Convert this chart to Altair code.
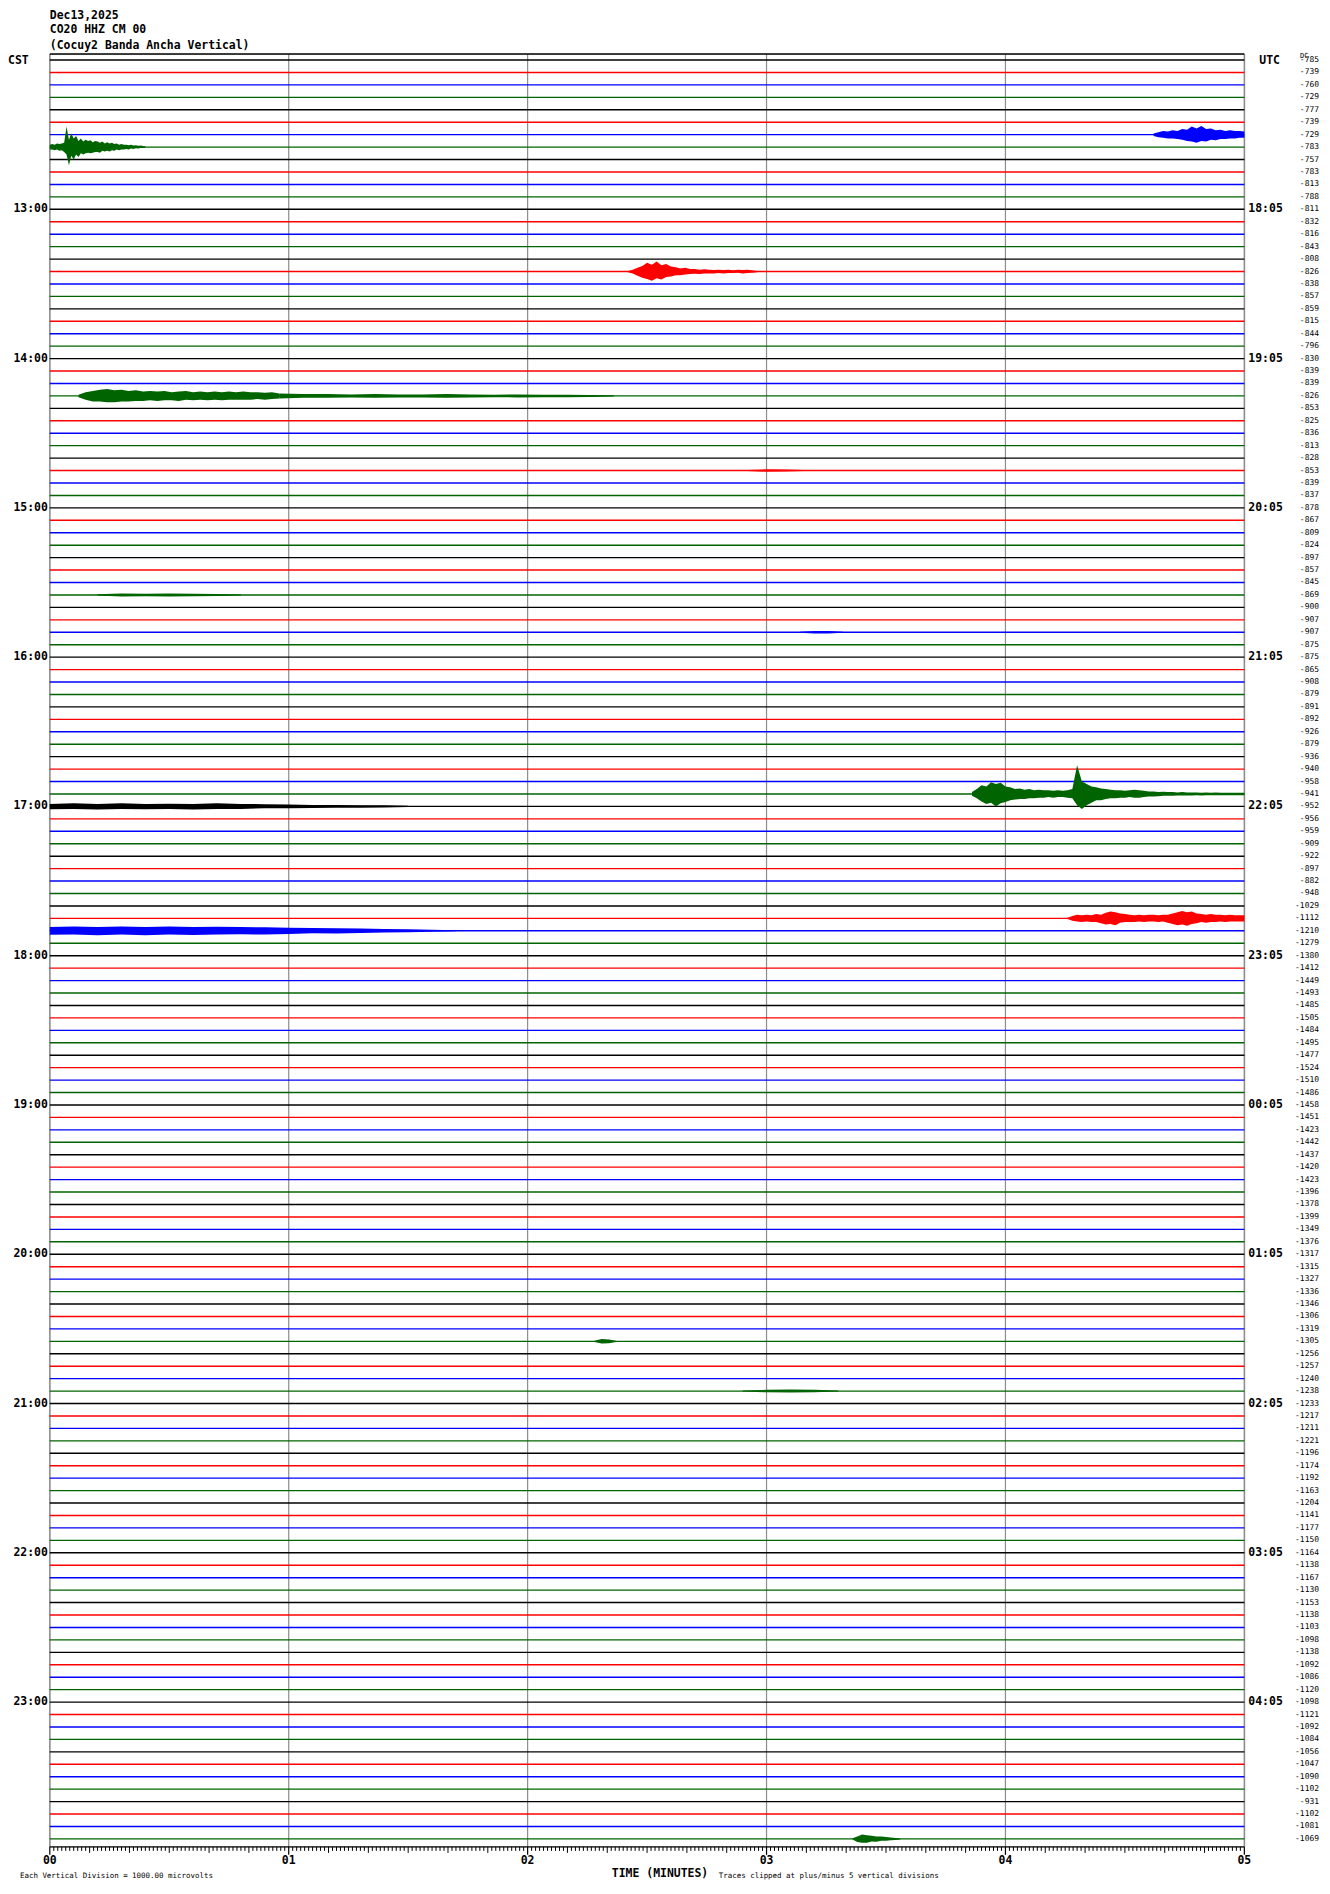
import altair as alt
import pandas as pd

# ---------------- data ----------------
right_values = [
    -785, -739, -760, -729, -777, -739, -729, -783, -757, -783, -813, -788,
    -811, -832, -816, -843, -808, -826, -838, -857, -859, -815, -844, -796,
    -830, -839, -839, -826, -853, -825, -836, -813, -828, -853, -839, -837,
    -878, -867, -809, -824, -897, -857, -845, -869, -900, -907, -907, -875,
    -875, -865, -908, -879, -891, -892, -926, -879, -936, -940, -958, -941,
    -952, -956, -959, -909, -922, -897, -882, -948, -1029, -1112, -1210, -1279,
    -1380, -1412, -1449, -1493, -1485, -1505, -1484, -1495, -1477, -1524, -1510, -1486,
    -1458, -1451, -1423, -1442, -1437, -1420, -1423, -1396, -1378, -1399, -1349, -1376,
    -1317, -1315, -1327, -1336, -1346, -1306, -1319, -1305, -1256, -1257, -1240, -1238,
    -1233, -1217, -1211, -1221, -1196, -1174, -1192, -1163, -1204, -1141, -1177, -1150,
    -1164, -1138, -1167, -1130, -1153, -1138, -1103, -1098, -1138, -1092, -1086, -1120,
    -1098, -1121, -1092, -1084, -1056, -1047, -1090, -1102, -931, -1102, -1081, -1069,
]
cst_labels = ["13:00", "14:00", "15:00", "16:00", "17:00", "18:00",
              "19:00", "20:00", "21:00", "22:00", "23:00"]
utc_labels = ["18:05", "19:05", "20:05", "21:05", "22:05", "23:05",
              "00:05", "01:05", "02:05", "03:05", "04:05"]
minute_labels = ["00", "01", "02", "03", "04", "05"]
color_keys = ["k", "r", "b", "g"]
color_range = ["#000000", "#ff0000", "#0000ff", "#006400"]

# seismic bursts read from the record:
# (row, start minute, sample step in minutes, upward amplitudes, downward amplitudes)
# amplitudes in units of trace spacing
bursts_data = [
    (7, 0.0, 0.01,
     [0.2, 0.25, 0.2, 0.3, 0.25, 0.3, 0.35, 1.65, 0.6, 1.1, 0.7, 0.9, 0.5, 0.7, 0.45, 0.6, 0.5, 0.55, 0.4, 0.5,
      0.45, 0.35, 0.45, 0.3, 0.4, 0.3, 0.35, 0.25, 0.3, 0.2, 0.25, 0.2, 0.2, 0.15, 0.2, 0.12, 0.15, 0.1, 0.12, 0.08, 0.06],
     [0.2, 0.2, 0.25, 0.2, 0.3, 0.25, 0.4, 0.6, 1.45, 0.7, 1.0, 0.6, 0.8, 0.5, 0.6, 0.5, 0.45, 0.5, 0.45, 0.4,
      0.4, 0.45, 0.3, 0.35, 0.3, 0.35, 0.25, 0.3, 0.2, 0.25, 0.2, 0.2, 0.15, 0.2, 0.12, 0.15, 0.1, 0.12, 0.08, 0.08, 0.06]),
    (6, 4.62, 0.02,
     [0.1, 0.2, 0.3, 0.25, 0.35, 0.3, 0.45, 0.4, 0.65, 0.5, 0.7, 0.45, 0.5, 0.35, 0.4, 0.3, 0.35, 0.3, 0.3, 0.25],
     [0.1, 0.2, 0.25, 0.3, 0.3, 0.35, 0.4, 0.5, 0.55, 0.65, 0.5, 0.55, 0.4, 0.45, 0.35, 0.35, 0.3, 0.3, 0.25, 0.25]),
    (17, 2.42, 0.02,
     [0.05, 0.15, 0.3, 0.45, 0.7, 0.55, 0.8, 0.5, 0.6, 0.4, 0.35, 0.25, 0.3, 0.2, 0.2, 0.15, 0.18, 0.15, 0.12, 0.15,
      0.12, 0.15, 0.1, 0.15, 0.12, 0.15, 0.1, 0.05],
     [0.05, 0.15, 0.35, 0.5, 0.6, 0.75, 0.55, 0.65, 0.45, 0.4, 0.3, 0.3, 0.25, 0.2, 0.18, 0.2, 0.15, 0.15, 0.15, 0.12,
      0.15, 0.12, 0.12, 0.1, 0.15, 0.12, 0.1, 0.05]),
    (27, 0.12, 0.03,
     [0.1, 0.3, 0.4, 0.5, 0.55, 0.45, 0.5, 0.4, 0.45, 0.35, 0.4, 0.35, 0.4, 0.3, 0.35, 0.4, 0.3, 0.35, 0.3, 0.35,
      0.3, 0.35, 0.3, 0.35, 0.3, 0.3, 0.25, 0.3, 0.2],
     [0.1, 0.3, 0.45, 0.45, 0.5, 0.5, 0.45, 0.45, 0.4, 0.4, 0.35, 0.4, 0.35, 0.35, 0.4, 0.3, 0.35, 0.3, 0.35, 0.3,
      0.35, 0.3, 0.3, 0.3, 0.3, 0.25, 0.3, 0.25, 0.2]),
    (27, 0.96, 0.1,
     [0.2, 0.15, 0.15, 0.12, 0.15, 0.12, 0.12, 0.15, 0.12, 0.1, 0.12, 0.1, 0.1, 0.08, 0.05],
     [0.2, 0.15, 0.15, 0.12, 0.15, 0.12, 0.12, 0.15, 0.12, 0.1, 0.12, 0.1, 0.1, 0.08, 0.05]),
    (59, 3.86, 0.02,
     [0.15, 0.4, 0.7, 0.6, 0.95, 0.8, 0.9, 0.6, 0.55, 0.4, 0.45, 0.35, 0.4, 0.3, 0.35, 0.3, 0.3, 0.25, 0.3, 0.25,
      0.3, 0.4, 2.3, 1.0, 0.8, 0.6, 0.55, 0.45, 0.4, 0.35, 0.3, 0.3, 0.25, 0.3, 0.35, 0.3, 0.25, 0.2, 0.2, 0.15,
      0.18, 0.15, 0.15, 0.12, 0.15, 0.12, 0.12, 0.12, 0.1, 0.12, 0.1, 0.12, 0.1, 0.1, 0.1, 0.1, 0.1, 0.1],
     [0.15, 0.35, 0.6, 0.8, 0.7, 1.0, 0.75, 0.65, 0.5, 0.45, 0.4, 0.4, 0.35, 0.35, 0.3, 0.3, 0.25, 0.3, 0.25, 0.25,
      0.3, 0.35, 0.9, 1.2, 0.9, 0.7, 0.5, 0.5, 0.4, 0.35, 0.35, 0.3, 0.3, 0.25, 0.3, 0.3, 0.25, 0.2, 0.2, 0.18,
      0.15, 0.15, 0.15, 0.12, 0.12, 0.12, 0.12, 0.1, 0.12, 0.1, 0.1, 0.1, 0.1, 0.1, 0.1, 0.1, 0.1, 0.1]),
    (60, 0.0, 0.1,
     [0.2, 0.25, 0.2, 0.25, 0.2, 0.22, 0.2, 0.25, 0.2, 0.18, 0.15, 0.12, 0.12, 0.1, 0.1, 0.05],
     [0.22, 0.2, 0.25, 0.2, 0.22, 0.2, 0.25, 0.2, 0.2, 0.15, 0.15, 0.12, 0.1, 0.1, 0.08, 0.05]),
    (69, 4.26, 0.02,
     [0.05, 0.2, 0.3, 0.25, 0.3, 0.25, 0.35, 0.3, 0.45, 0.55, 0.5, 0.4, 0.35, 0.3, 0.25, 0.3, 0.25, 0.3, 0.3, 0.25,
      0.3, 0.3, 0.4, 0.5, 0.6, 0.5, 0.55, 0.4, 0.35, 0.3, 0.35, 0.3, 0.3, 0.25, 0.3, 0.25, 0.25, 0.25],
     [0.05, 0.2, 0.25, 0.3, 0.25, 0.3, 0.3, 0.4, 0.5, 0.45, 0.55, 0.35, 0.3, 0.3, 0.3, 0.25, 0.3, 0.25, 0.25, 0.3,
      0.25, 0.35, 0.45, 0.55, 0.5, 0.6, 0.45, 0.4, 0.3, 0.35, 0.3, 0.3, 0.25, 0.3, 0.25, 0.25, 0.25, 0.25]),
    (70, 0.0, 0.1,
     [0.3, 0.35, 0.3, 0.35, 0.3, 0.35, 0.3, 0.32, 0.3, 0.28, 0.25, 0.22, 0.2, 0.18, 0.15, 0.12, 0.08, 0.04],
     [0.32, 0.3, 0.35, 0.3, 0.35, 0.3, 0.33, 0.3, 0.28, 0.3, 0.25, 0.2, 0.22, 0.18, 0.14, 0.12, 0.08, 0.04]),
    (143, 3.36, 0.02,
     [0.05, 0.2, 0.35, 0.3, 0.25, 0.2, 0.2, 0.15, 0.12, 0.08, 0.04],
     [0.05, 0.25, 0.3, 0.3, 0.2, 0.22, 0.15, 0.15, 0.1, 0.08, 0.04]),
    (43, 0.2, 0.1,
     [0.05, 0.12, 0.1, 0.12, 0.1, 0.08, 0.04],
     [0.05, 0.12, 0.1, 0.12, 0.1, 0.08, 0.04]),
    (103, 2.28, 0.03,
     [0.05, 0.18, 0.15, 0.05],
     [0.05, 0.18, 0.15, 0.05]),
    (107, 2.9, 0.1,
     [0.04, 0.1, 0.12, 0.1, 0.04],
     [0.04, 0.1, 0.12, 0.1, 0.04]),
    (33, 2.92, 0.08,
     [0.04, 0.1, 0.08, 0.04],
     [0.04, 0.1, 0.08, 0.04]),
    (46, 3.14, 0.06,
     [0.04, 0.1, 0.1, 0.04],
     [0.04, 0.1, 0.1, 0.04]),
]

# ---------------- tables ----------------
n_rows = len(right_values)
traces = pd.DataFrame({
    "row": list(range(n_rows)),
    "t0": [0.0] * n_rows,
    "t1": [5.0] * n_rows,
    "c": [color_keys[i % 4] for i in range(n_rows)],
    "val": [str(v) for v in right_values],
})

ev_records = []
for k, (r, t0, dt, ups, dns) in enumerate(bursts_data):
    for i, (u, d) in enumerate(zip(ups, dns)):
        ev_records.append({"ev": k, "t": min(5.0, round(t0 + i * dt, 4)),
                           "top": r - u, "bot": r + d, "c": color_keys[r % 4]})
events = pd.DataFrame(ev_records)

hours = pd.DataFrame({
    "row": [12 * (i + 1) for i in range(len(cst_labels))],
    "cst": cst_labels,
    "utc": utc_labels,
})
minutes = pd.DataFrame({"t": list(range(len(minute_labels))), "lab": minute_labels})
sec_ticks = pd.DataFrame({"t": [s / 60 for s in range(301)]})
sec_ticks["kind"] = ["m" if s % 60 == 0 else ("d" if s % 10 == 0 else "s") for s in range(301)]

W, H = 1200, 1801
ydom = [-0.48, 143.64]
xs = alt.Scale(domain=[0, 5], nice=False, zero=False)
ys = alt.Scale(domain=ydom, reverse=True, nice=False, zero=False)
cs = alt.Scale(domain=color_keys, range=color_range)
MONO = "DejaVu Sans Mono"

grid = alt.Chart(minutes).transform_filter("datum.t > 0 && datum.t < 5").mark_rule(
    color="#8c8c8c", strokeWidth=1.2).encode(
    x=alt.X("t:Q", scale=xs, axis=None), y=alt.value(0), y2=alt.value(H))

borders = alt.Chart(minutes).transform_filter("datum.t == 0 || datum.t == 5").mark_rule(
    color="#8c8c8c", strokeWidth=1.5).encode(
    x=alt.X("t:Q", scale=xs, axis=None), y=alt.value(0), y2=alt.value(H))

top_line = alt.Chart(minutes).transform_filter("datum.t == 0").mark_rule(
    color="#000000", strokeWidth=1.5).encode(
    x=alt.value(0), x2=alt.value(W), y=alt.value(0))

bottom_line = alt.Chart(minutes).transform_filter("datum.t == 0").mark_rule(
    color="#000000", strokeWidth=1.2).encode(
    x=alt.value(0), x2=alt.value(W), y=alt.value(H))

trace_lines = alt.Chart(traces).mark_rule(strokeWidth=1.4).encode(
    x=alt.X("t0:Q", scale=xs, axis=None), x2="t1:Q",
    y=alt.Y("row:Q", scale=ys, axis=None),
    color=alt.Color("c:N", scale=cs, legend=None))

bursts = alt.Chart(events).mark_area(opacity=1, interpolate="linear").encode(
    x=alt.X("t:Q", scale=xs, axis=None),
    y=alt.Y("top:Q", scale=ys, axis=None), y2="bot:Q",
    detail="ev:N",
    color=alt.Color("c:N", scale=cs, legend=None))

right_text = alt.Chart(traces).mark_text(
    align="right", baseline="middle", font=MONO, fontSize=8, color="#000").encode(
    x=alt.value(1275), y=alt.Y("row:Q", scale=ys, axis=None), text="val:N")

cst_text = alt.Chart(hours).mark_text(
    align="right", baseline="middle", font=MONO, fontSize=11.5, fontWeight="bold", color="#000").encode(
    x=alt.value(-2), y=alt.Y("row:Q", scale=ys, axis=None), text="cst:N")

utc_text = alt.Chart(hours).mark_text(
    align="left", baseline="middle", font=MONO, fontSize=11.5, fontWeight="bold", color="#000").encode(
    x=alt.value(1204), y=alt.Y("row:Q", scale=ys, axis=None), text="utc:N")

ticks_s = alt.Chart(sec_ticks).transform_filter("datum.kind == 's'").mark_rule(
    color="#000", strokeWidth=1).encode(
    x=alt.X("t:Q", scale=xs, axis=None), y=alt.value(H), y2=alt.value(H + 4))
ticks_d = alt.Chart(sec_ticks).transform_filter("datum.kind == 'd'").mark_rule(
    color="#000", strokeWidth=1).encode(
    x=alt.X("t:Q", scale=xs, axis=None), y=alt.value(H), y2=alt.value(H + 6))
ticks_m = alt.Chart(sec_ticks).transform_filter("datum.kind == 'm'").mark_rule(
    color="#000", strokeWidth=1.2).encode(
    x=alt.X("t:Q", scale=xs, axis=None), y=alt.value(H), y2=alt.value(H + 8))

minute_text = alt.Chart(minutes).mark_text(
    align="center", baseline="middle", font=MONO, fontSize=11.5, fontWeight="bold", color="#000").encode(
    x=alt.X("t:Q", scale=xs, axis=None), y=alt.value(H + 14), text="lab:N")

header_df = pd.DataFrame({
    "txt": ["Dec13,2025", "CO20 HHZ CM 00", "(Cocuy2 Banda Ancha Vertical)"],
    "py": [-38, -24, -8],
})
header = alt.Chart(header_df).mark_text(
    align="left", baseline="middle", font=MONO, fontSize=11.5, fontWeight="bold", color="#000").encode(
    x=alt.value(0), y=alt.Y("py:Q", scale=None), text="txt:N")

misc_df = pd.DataFrame({
    "txt": ["CST", "UTC", "DC", "TIME (MINUTES)",
            "Each Vertical Division = 1000.00 microvolts",
            "Traces clipped at plus/minus 5 vertical divisions"],
    "px": [-42, 1215, 1256, 613, -30, 672],
    "py": [7, 7, 2, 1828, 1830, 1830],
    "al": ["left", "left", "left", "center", "left", "left"],
    "fs": [11.5, 11.5, 7, 11.5, 7.5, 7.5],
    "fw": ["bold", "bold", "normal", "bold", "normal", "normal"],
})
misc_layers = []
for _, r in misc_df.iterrows():
    misc_layers.append(
        alt.Chart(misc_df[misc_df.txt == r.txt]).mark_text(
            align=r.al, baseline="middle", font=MONO, fontSize=float(r.fs),
            fontWeight=r.fw, color="#000").encode(
            x=alt.X("px:Q", scale=None), y=alt.Y("py:Q", scale=None), text="txt:N"))

chart = alt.layer(
    grid, borders, top_line, bottom_line, trace_lines, bursts,
    right_text, cst_text, utc_text, ticks_s, ticks_d, ticks_m, minute_text,
    header, *misc_layers
).properties(
    width=W, height=H,
    autosize=alt.AutoSizeParams(type="none"),
    padding={"left": 42, "top": 42, "right": 78, "bottom": 31},
).configure_view(stroke=None).configure(background="#ffffff")

chart.save("out.html", embed_options={"renderer": "svg", "actions": False})
